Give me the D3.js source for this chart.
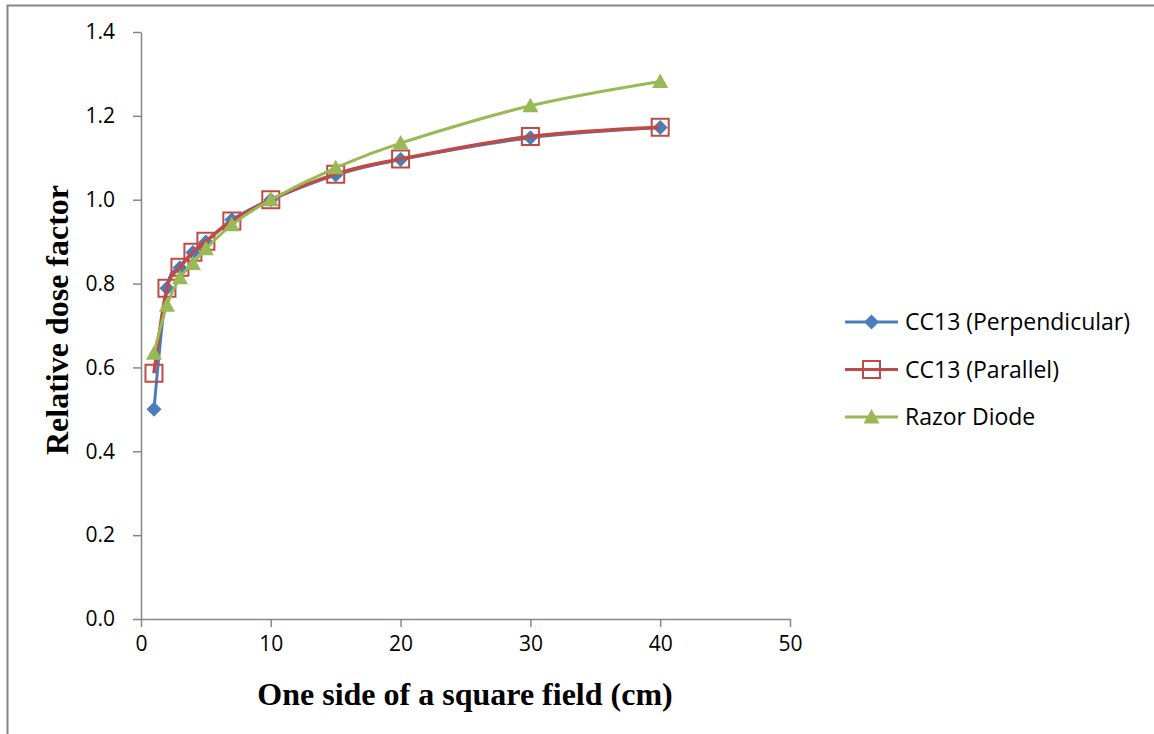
<!DOCTYPE html>
<html>
<head>
<meta charset="utf-8">
<script src="https://cdn.jsdelivr.net/npm/d3@7"></script>
<style>
  body { margin: 0; background: #fff; }
</style>
</head>
<body>
<div id="container"></div>
<script>
/* CONSTANTS AND GLOBALS */
const width = 1154;
const height = 734;
const margin = { top: 32, bottom: 115, left: 141, right: 364 };

/* DATA */
const fieldSizes = [1, 2, 3, 4, 5, 7, 10, 15, 20, 30, 40];
const perpendicular = [0.50, 0.789, 0.838, 0.874, 0.899, 0.952, 1.0, 1.059, 1.096, 1.148, 1.172];
const parallel = [0.586, 0.789, 0.839, 0.875, 0.901, 0.949, 1.0, 1.061, 1.097, 1.151, 1.173];
const razorDiode = [0.634, 0.748, 0.814, 0.848, 0.883, 0.94, 1.0, 1.076, 1.135, 1.224, 1.282];
const seriesNames = ["CC13 (Perpendicular)", "CC13 (Parallel)", "Razor Diode"];
const seriesColors = ["#4A7EBB", "#BE4B48", "#98B954"];
const seriesMarkers = ["diamond", "square", "triangle"];
const xTicks = [0, 10, 20, 30, 40, 50];
const yTicks = [0, 0.2, 0.4, 0.6, 0.8, 1.0, 1.2, 1.4];

const series = [perpendicular, parallel, razorDiode].map((vals, i) => ({
  name: seriesNames[i],
  color: seriesColors[i],
  marker: seriesMarkers[i],
  values: fieldSizes.map((x, j) => ({ x: x, y: vals[j] }))
}));

const svg = d3.select("#container")
  .append("svg")
  .attr("width", width)
  .attr("height", height);

// outer chart frame (only top and left edges visible in the crop)
svg.append("path")
  .attr("d", `M7.5,${height + 2} V5.5 H${width + 2}`)
  .attr("fill", "none")
  .attr("stroke", "#868686")
  .attr("stroke-width", 2);

/* SCALES */
const xScale = d3.scaleLinear()
  .domain([0, 50])
  .range([margin.left, width - margin.right]);

const yScale = d3.scaleLinear()
  .domain([0, 1.4])
  .range([height - margin.bottom, margin.top]);

/* AXES */
const xAxis = svg.append("g")
  .attr("transform", `translate(0,${height - margin.bottom})`)
  .call(d3.axisBottom(xScale).tickValues(xTicks).tickFormat(d3.format("d")).tickSizeOuter(0).tickSizeInner(8).tickPadding(9));

const yAxis = svg.append("g")
  .attr("transform", `translate(${margin.left},0)`)
  .call(d3.axisLeft(yScale).tickValues(yTicks).tickFormat(d3.format(".1f")).tickSizeOuter(0).tickSizeInner(8).tickPadding(18));

[xAxis, yAxis].forEach(ax => {
  ax.selectAll(".tick text")
    .style("font-family", "'Open Sans', sans-serif")
    .style("font-size", "21px")
    .attr("fill", "#000");
  ax.select(".domain").attr("stroke", "#868686").attr("stroke-width", 1.5);
  ax.selectAll(".tick line").attr("stroke", "#868686").attr("stroke-width", 1.5);
});

/* LINES */
const line = d3.line()
  .x(d => xScale(d.x))
  .y(d => yScale(d.y))
  .curve(d3.curveCatmullRom.alpha(0));

const markerPath = {
  diamond: "M0,-7.5L7.5,0L0,7.5L-7.5,0Z",
  square: "M-8.5,-8.5H8.5V8.5H-8.5Z",
  triangle: "M0,-8L8,6.5H-8Z"
};

function drawMarker(g, s, x, y) {
  const m = g.append("path")
    .attr("d", markerPath[s.marker])
    .attr("transform", `translate(${x},${y})`);
  if (s.marker === "square") {
    m.attr("fill", "none").attr("stroke", s.color).attr("stroke-width", 2);
  } else {
    m.attr("fill", s.color);
  }
}

series.forEach(s => {
  const g = svg.append("g");
  g.append("path")
    .datum(s.values)
    .attr("d", line)
    .attr("fill", "none")
    .attr("stroke", s.color)
    .attr("stroke-width", s.marker === "square" ? 3.5 : 3);
  s.values.forEach(d => drawMarker(g, s, xScale(d.x), yScale(d.y)));
});

/* AXIS TITLES */
svg.append("text")
  .attr("x", 465)
  .attr("y", 705)
  .attr("text-anchor", "middle")
  .attr("font-family", "Liberation Serif, serif")
  .attr("font-weight", "bold")
  .attr("font-size", 32)
  .text("One side of a square field (cm)");

svg.append("text")
  .attr("transform", "translate(68,320) rotate(-90)")
  .attr("text-anchor", "middle")
  .attr("font-family", "Liberation Serif, serif")
  .attr("font-weight", "bold")
  .attr("font-size", 32)
  .text("Relative dose factor");

/* LEGEND */
const legend = svg.append("g");
series.forEach((s, i) => {
  const y = 322 + i * 47.5;
  const g = legend.append("g");
  g.append("line")
    .attr("x1", 845).attr("x2", 898)
    .attr("y1", y).attr("y2", y)
    .attr("stroke", s.color)
    .attr("stroke-width", 3);
  drawMarker(g, s, 871.5, y);
  g.append("text")
    .attr("x", 905)
    .attr("y", y)
    .attr("dy", "0.35em")
    .attr("font-family", "Open Sans, sans-serif")
    .attr("font-size", 23)
    .text(s.name);
});
</script>
</body>
</html>
